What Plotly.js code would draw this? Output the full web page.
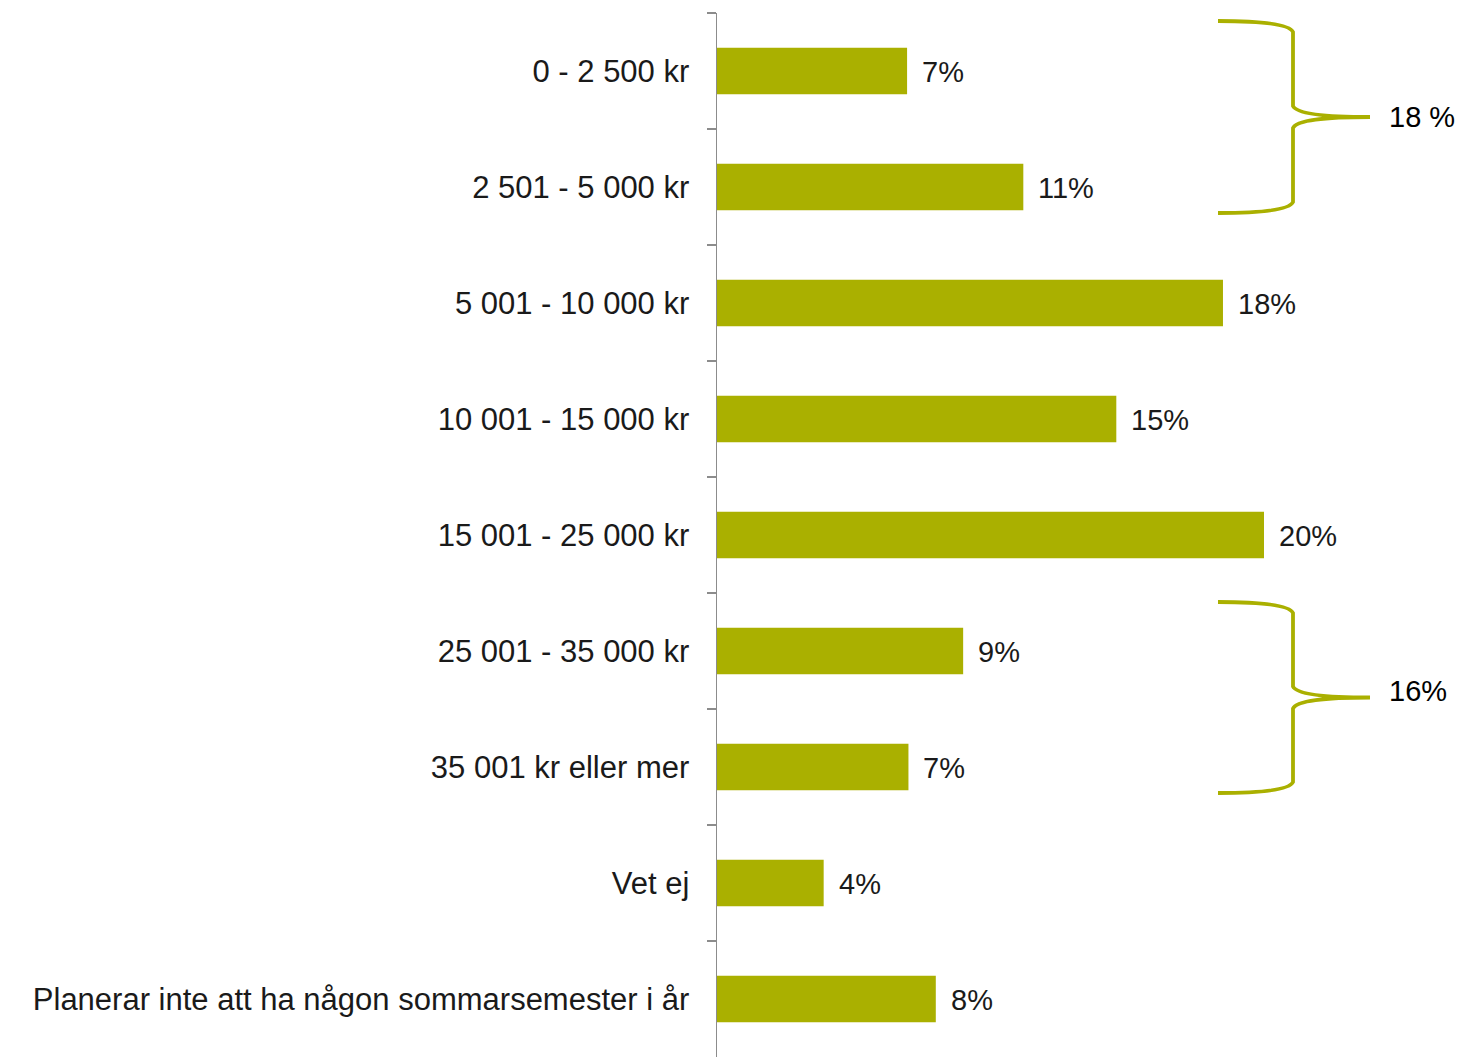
<!DOCTYPE html>
<html>
<head>
<meta charset="utf-8">
<script src="https://cdn.plot.ly/plotly-3.0.1.min.js"></script>
<style>html,body{margin:0;padding:0;background:#fff;}</style>
</head>
<body>
<div id="chart" style="width:1457px;height:1057px;"></div>
<script>
// Data
const categories = [
  "0 - 2 500 kr",
  "2 501 - 5 000 kr",
  "5 001 - 10 000 kr",
  "10 001 - 15 000 kr",
  "15 001 - 25 000 kr",
  "25 001 - 35 000 kr",
  "35 001 kr eller mer",
  "Vet ej",
  "Planerar inte att ha någon sommarsemester i år"
];
const values = [6.95, 11.2, 18.5, 14.6, 20.0, 9.0, 7.0, 3.9, 8.0];
const valueLabels = ["7%", "11%", "18%", "15%", "20%", "9%", "7%", "4%", "8%"];
const groupLabels = ["18 %", "16%"];

const W = 1457, H = 1057;
const M = {l: 717, r: 0, t: 13, b: 0};
const PW = W - M.l - M.r, PH = H - M.t - M.b;
const olive = "#AAB000";
const FONT = "Liberation Sans, Arial, sans-serif";

// helper: pixel -> paper coordinates for decorative braces
function px(x){ return ((x - M.l) / PW).toFixed(5); }
function py(y){ return (1 - (y - M.t) / PH).toFixed(5); }
function brace(top, bot){
  const mid = (top + bot) / 2;
  const x0 = 1218, x1 = 1293, xt = 1370;
  const p = [
    `M ${px(x0)},${py(top)}`,
    `Q ${px(1288)},${py(top)} ${px(x1)},${py(top+11)}`,
    `L ${px(x1)},${py(mid-11)}`,
    `Q ${px(1298)},${py(mid)} ${px(xt)},${py(mid)}`,
    `Q ${px(1298)},${py(mid)} ${px(x1)},${py(mid+11)}`,
    `L ${px(x1)},${py(bot-11)}`,
    `Q ${px(1288)},${py(bot)} ${px(x0)},${py(bot)}`
  ].join(" ");
  return {type: "path", xref: "paper", yref: "paper", path: p,
          line: {color: olive, width: 3.8}};
}

const trace = {
  type: "bar",
  orientation: "h",
  y: categories,
  x: values,
  marker: {color: olive},
  hoverinfo: "none"
};

const annotations = values.map((v, i) => ({
  x: v, y: categories[i], xref: "x", yref: "y",
  text: valueLabels[i], showarrow: false,
  xanchor: "left", xshift: 13, yshift: -1,
  font: {family: FONT, size: 29, color: "#1a1a1a"}
}));
annotations.push({
  xref: "paper", yref: "paper", x: +px(1387), y: +py(117),
  text: groupLabels[0], showarrow: false, xanchor: "left", yanchor: "middle",
  font: {family: FONT, size: 29, color: "#000"}
});
annotations.push({
  xref: "paper", yref: "paper", x: +px(1387), y: +py(691),
  text: groupLabels[1], showarrow: false, xanchor: "left", yanchor: "middle",
  font: {family: FONT, size: 29, color: "#000"}
});

const layout = {
  width: W, height: H,
  margin: M,
  paper_bgcolor: "#fff", plot_bgcolor: "#fff",
  showlegend: false,
  bargap: 0.6,
  font: {family: FONT, color: "#1a1a1a"},
  xaxis: {range: [0, PW / 27.35], visible: false, showgrid: false, zeroline: false, fixedrange: true},
  yaxis: {
    autorange: "reversed",
    type: "category",
    showline: true, linecolor: "#8c8c8c", linewidth: 1.5,
    ticks: "outside", tickson: "boundaries", ticklen: 9, tickcolor: "#8c8c8c", tickwidth: 1.5,
    tickfont: {size: 31, color: "#1a1a1a", family: FONT},
    showgrid: false, zeroline: false,
    ticklabelstandoff: 20
  },
  shapes: [brace(21, 213), brace(602, 793)],
  annotations: annotations
};

Plotly.newPlot("chart", [trace], layout, {staticPlot: true, displayModeBar: false});
</script>
</body>
</html>
